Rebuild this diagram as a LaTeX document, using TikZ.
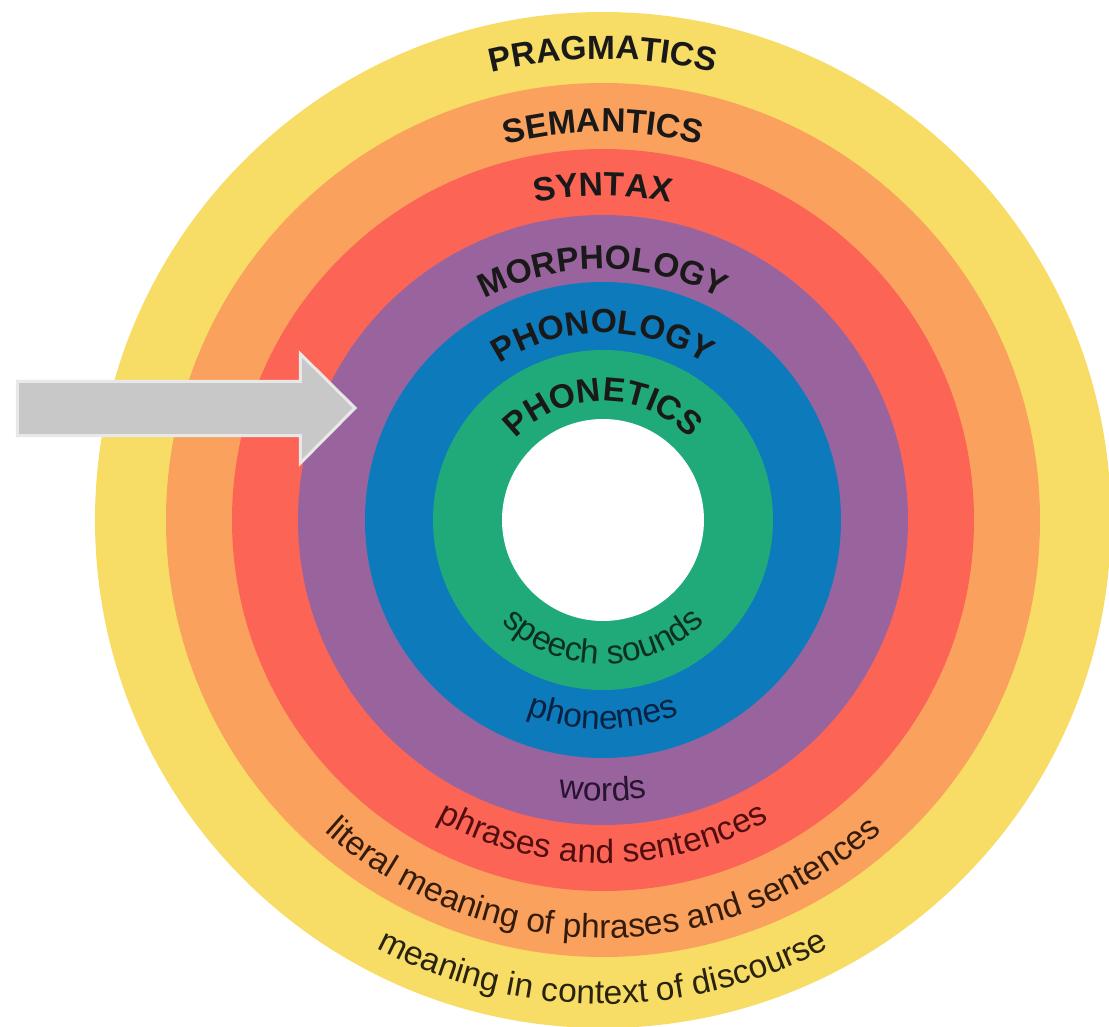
\documentclass[tikz,border=0pt]{standalone}
\usepackage{fontspec}
\setmainfont{Liberation Sans}
\usetikzlibrary{decorations.text}

\definecolor{ringyellow}{RGB}{247,221,101}
\definecolor{ringorange}{RGB}{250,161,93}
\definecolor{ringred}{RGB}{252,100,86}
\definecolor{ringpurple}{RGB}{153,100,157}
\definecolor{ringblue}{RGB}{12,122,187}
\definecolor{ringgreen}{RGB}{33,170,121}
\definecolor{arrowfill}{RGB}{200,200,200}
\definecolor{arrowedge}{RGB}{232,232,232}
\definecolor{inkyellow}{RGB}{40,34,14}
\definecolor{inkorange}{RGB}{52,28,12}
\definecolor{inkred}{RGB}{80,14,14}
\definecolor{inkpurple}{RGB}{40,20,48}
\definecolor{inkblue}{RGB}{10,34,66}
\definecolor{inkgreen}{RGB}{10,48,34}

\newcommand\ringcap{\fontsize{33.5}{40}\selectfont\bfseries}
\newcommand\ringsub{\fontsize{33.5}{40}\selectfont}
% name of a level, along the top of its ring
\newcommand\toplabel[2]{%
  \path[decorate,decoration={text along path,text align=center,text color=black!90,
    text={|\ringcap|#2}}] (180:#1) arc[start angle=180,end angle=0,radius=#1];}
% unit of a level, along the bottom of its ring
\newcommand\bottomlabel[3]{%
  \path[decorate,decoration={text along path,text align=center,text color=#2,
    text={|\ringsub|#3}}] (180:#1) arc[start angle=180,end angle=360,radius=#1];}

\begin{document}
\begin{tikzpicture}[x=1pt,y=1pt]
  \useasboundingbox (-603,-506) rectangle (506,520);

  %Shape: Rings, outside in
  \foreach \r/\c in {508/ringyellow,437/ringorange,371/ringred,305/ringpurple,238/ringblue,170/ringgreen,101/white}
    \fill[\c] (0,0) circle[radius=\r];

  % Text: levels
  \toplabel{461}{PRAGMATICS}
  \toplabel{388}{SEMANTICS}
  \toplabel{324}{SYNTAX}
  \toplabel{251}{MORPHOLOGY}
  \toplabel{187}{PHONOLOGY}
  \toplabel{119}{PHONETICS}

  % Text: units
  \bottomlabel{484}{inkyellow}{meaning in context of discourse}
  \bottomlabel{418}{inkorange}{literal meaning of phrases and sentences}
  \bottomlabel{343}{inkred}{phrases and sentences}
  \bottomlabel{281}{inkpurple}{words}
  \bottomlabel{209}{inkblue}{phonemes}
  \bottomlabel{144}{inkgreen}{speech sounds}

  %Shape: Arrow
  \draw[arrowedge,line width=3,fill=arrowfill,miter limit=4]
    (-585.5,138.5) -- (-302.5,138.5) -- (-302.5,166) -- (-248,112)
    -- (-302.5,57) -- (-302.5,84.5) -- (-585.5,84.5) -- cycle;
\end{tikzpicture}
\end{document}
